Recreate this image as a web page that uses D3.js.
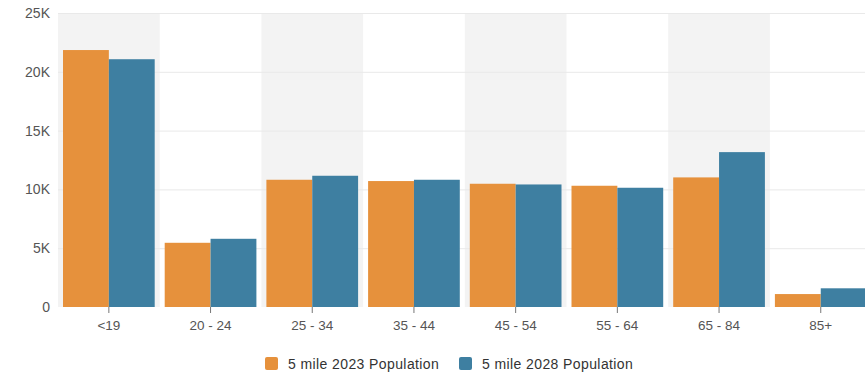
<!DOCTYPE html>
<html><head><meta charset="utf-8">
<script src="https://cdn.jsdelivr.net/npm/d3@7"></script>
<style>body{margin:0;background:#fff;}svg{display:block;font-family:"Liberation Sans",Arial,sans-serif;}</style>
</head><body><svg id="c" width="865" height="377"></svg>
<script>
const categories = ["<19","20 - 24","25 - 34","35 - 44","45 - 54","55 - 64","65 - 84","85+"];
const seriesNames = ["5 mile 2023 Population","5 mile 2028 Population"];
const pop2023 = [21850, 5460, 10820, 10710, 10480, 10310, 11020, 1100];
const pop2028 = [21070, 5800, 11160, 10820, 10420, 10140, 13170, 1590];
const yTicks = [0, 5000, 10000, 15000, 20000, 25000];
const colors = ["#e6913c", "#3e7fa1"];

const svg = d3.select("#c");
const mLeft = 58, mTop = 13, mBottom = 307, step = 101.7;
const x0 = d3.scaleBand().domain(categories).range([mLeft, mLeft + step*categories.length]).padding(0);
const y = d3.scaleLinear().domain([0, 25000]).range([mBottom, mTop]);
const x1 = d3.scaleBand().domain([0,1]).range([5, x0.bandwidth()-5]).padding(0);

// alternating band shading
svg.append("g").selectAll("rect").data(categories.filter((d,i)=>i%2===0)).join("rect")
  .attr("x", d=>x0(d)).attr("y", mTop).attr("width", x0.bandwidth()).attr("height", mBottom-mTop)
  .attr("fill", "#f3f3f3");

// gridlines
svg.append("g").selectAll("line").data(yTicks.slice(1)).join("line")
  .attr("x1", mLeft).attr("x2", 865).attr("y1", d=>y(d)+0.5).attr("y2", d=>y(d)+0.5)
  .attr("stroke", "#e9e9e9").attr("stroke-width", 1);

// y labels
svg.append("g").selectAll("text").data(yTicks).join("text")
  .attr("x", 50).attr("y", d=>y(d)).attr("dy", "0.36em").attr("text-anchor","end")
  .attr("font-size", 14).attr("fill", "#555").text(d=> d===0 ? "0" : (d/1000)+"K");

// bars
const data = categories.map((c,i)=>({c, v:[pop2023[i], pop2028[i]]}));
const g = svg.append("g").selectAll("g").data(data).join("g").attr("transform", d=>`translate(${x0(d.c)},0)`);
g.selectAll("rect").data(d=>d.v.map((v,k)=>({v,k}))).join("rect")
  .attr("x", d=>x1(d.k)).attr("width", x1.bandwidth())
  .attr("y", d=>y(d.v)).attr("height", d=>mBottom - y(d.v))
  .attr("fill", d=>colors[d.k]);

// x axis
const xAxis = d3.axisBottom(x0).tickSize(6).tickPadding(7);
const ax = svg.append("g").attr("transform", `translate(0,${mBottom})`).call(xAxis);
ax.select(".domain").remove();
ax.selectAll(".tick line").attr("stroke", "#777");
ax.selectAll(".tick text").attr("font-size", 13.5).attr("fill", "#555").attr("font-family", '"Liberation Sans",Arial,sans-serif');

// legend
const legX = [265, 459];
const lg = svg.append("g").selectAll("g").data(seriesNames).join("g")
  .attr("transform", (d,i)=>`translate(${legX[i]},357)`);
lg.append("rect").attr("width", 13).attr("height", 13).attr("rx", 2).attr("fill", (d,i)=>colors[i]);
lg.append("text").attr("x", 23).attr("y", 11.5).attr("font-size", 14).attr("letter-spacing", 0.4).attr("fill", "#333").text(d=>d);
</script></body></html>
